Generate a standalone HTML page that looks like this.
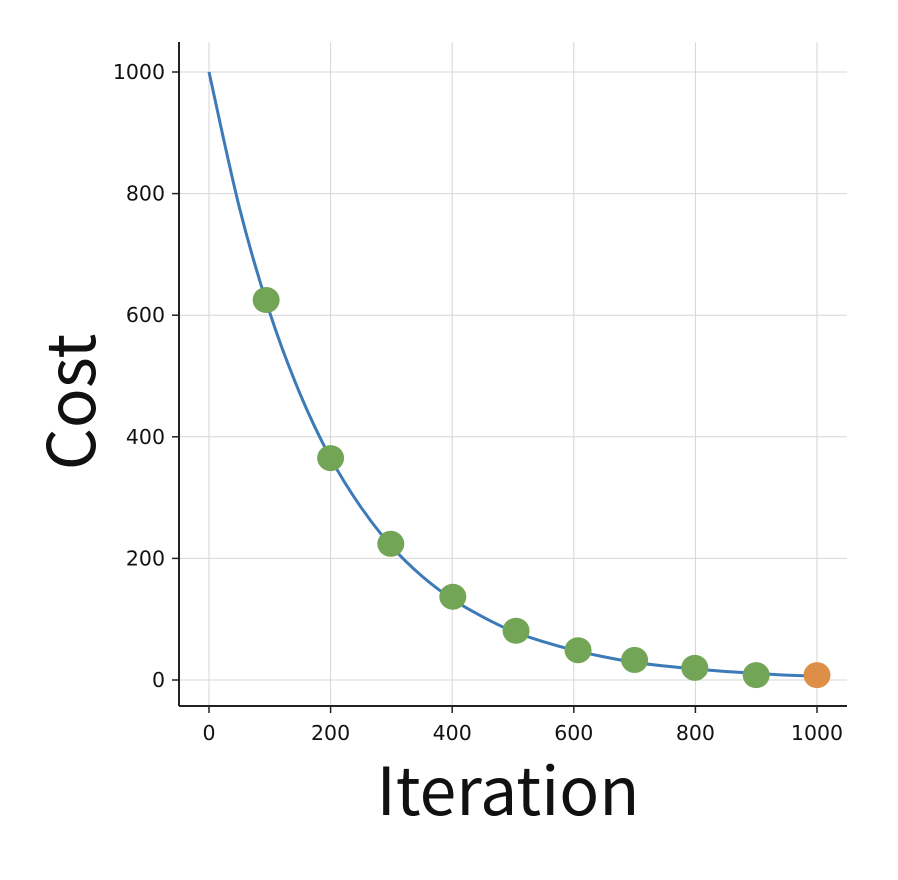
<!DOCTYPE html>
<html><head><meta charset="utf-8"><style>
html,body{margin:0;padding:0;background:#fff;}
svg{display:block;}
text{font-family:"DejaVu Sans","Liberation Sans",sans-serif;fill:#111;}
.ttl{font-family:"Noto Sans CJK JP","DejaVu Sans",sans-serif;}
</style></head><body>
<svg id="chart" width="898" height="880" xmlns="http://www.w3.org/2000/svg">
<defs><clipPath id="lc"><rect x="111" y="0" width="787" height="880"/></clipPath></defs>
<g id="grid"></g>
<g id="curve"></g>
<g id="dots"></g>
<g id="axes" clip-path="url(#lc)"></g>
<text class="ttl" x="508" y="815" text-anchor="middle" font-size="66">Iteration</text>
<text class="ttl" transform="translate(95,402) rotate(-90)" text-anchor="middle" font-size="66">Cost</text>
</svg>
<script>
const xTicks=[0,200,400,600,800,1000];
const yTicks=[0,200,400,600,800,1000];
const curveX=[0,50,100,150,200,250,300,350,400,450,500,550,600,650,700,750,800,850,900,950,1000];
const curveY=[1000,777,604,470,365,284,220,171,133,104,80,63,49,38,29,23,18,14,11,8,6.5];
const greenX=[94,200,299,401,505,607,700,799,900];
const greenY=[625,365,224,137,81,49,33,20,8];
const finalX=[1000];
const finalY=[8];
const NS="http://www.w3.org/2000/svg";
const L=179,R=847,T=42,B=706;
function sx(v){return 209+v*0.6080;}
function sy(v){return 680-v*0.6080;}
function mk(t,a,p){const e=document.createElementNS(NS,t);for(const k in a)e.setAttribute(k,a[k]);p.appendChild(e);return e;}
const grid=document.getElementById('grid'),axes=document.getElementById('axes');
xTicks.forEach(v=>{
 const g=mk('line',{x1:sx(v),x2:sx(v),y1:T,y2:B,stroke:'#d6d6d6','stroke-width':1},grid);
 
 
 const t=mk('line',{x1:sx(v),x2:sx(v),y1:B,y2:B+7,stroke:'#222','stroke-width':1.5},axes);
 
 
 const l=mk('text',{x:sx(v),y:B+34,'text-anchor':'middle','font-size':20.5},axes);
 l.textContent=v;
 
 
});
yTicks.forEach(v=>{
 const g=mk('line',{x1:L,x2:R,y1:sy(v),y2:sy(v),stroke:'#d6d6d6','stroke-width':1},grid);
 
 
 const t=mk('line',{x1:L-7,x2:L,y1:sy(v),y2:sy(v),stroke:'#222','stroke-width':1.5},axes);
 
 
 const l=mk('text',{x:L-14,y:sy(v)+7,'text-anchor':'end','font-size':20.5},axes);
 l.textContent=v;
 
 
});
const ya=mk('line',{x1:L,x2:L,y1:T,y2:B,stroke:'#222','stroke-width':2},axes);


const xa=mk('line',{x1:L,x2:R,y1:B,y2:B,stroke:'#222','stroke-width':2},axes);


const P=curveX.map((x,i)=>[sx(x),sy(curveY[i])]);
let d='M'+P[0][0]+','+P[0][1];
for(let i=0;i<P.length-1;i++){
 const p0=P[Math.max(0,i-1)],p1=P[i],p2=P[i+1],p3=P[Math.min(P.length-1,i+2)];
 const c1=[p1[0]+(p2[0]-p0[0])/6,p1[1]+(p2[1]-p0[1])/6];
 const c2=[p2[0]-(p3[0]-p1[0])/6,p2[1]-(p3[1]-p1[1])/6];
 d+=` C${c1[0]},${c1[1]} ${c2[0]},${c2[1]} ${p2[0]},${p2[1]}`;
}
const path=mk('path',{d:d,fill:'none',stroke:'#3d7ab8','stroke-width':3},document.getElementById('curve'));


const dots=document.getElementById('dots');
greenX.forEach((x,i)=>{
 const c=mk('ellipse',{cx:sx(x),cy:sy(greenY[i]),rx:13.5,ry:13,fill:'#72a556'},dots);
 
 
});
finalX.forEach((x,i)=>{
 const c=mk('ellipse',{cx:sx(x),cy:sy(finalY[i]),rx:13.5,ry:13,fill:'#dd8f47'},dots);
 
 
});
</script>
</body></html>
